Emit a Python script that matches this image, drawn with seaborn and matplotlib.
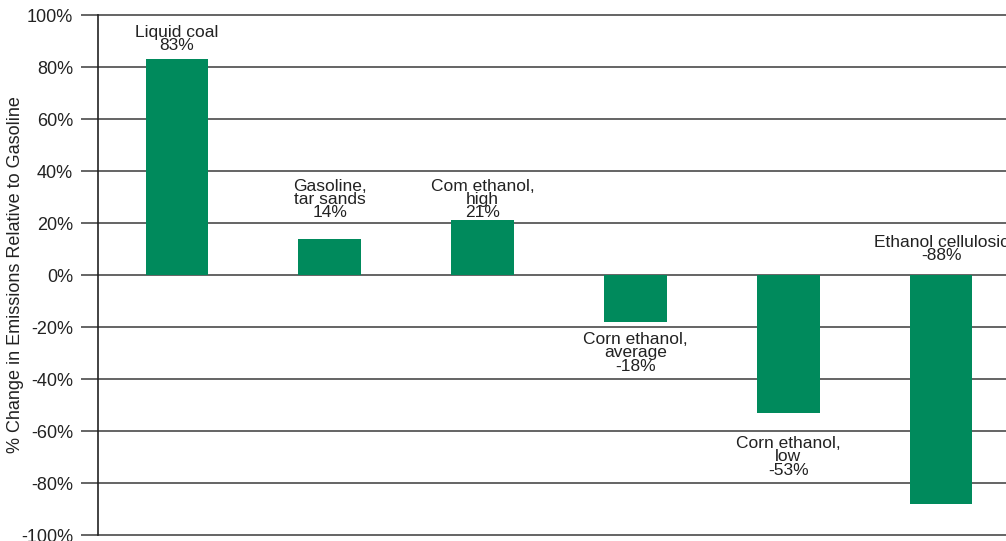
import matplotlib
matplotlib.use("Agg")
import matplotlib.pyplot as plt
import seaborn as sns
import pandas as pd

categories = ["Liquid coal", "Gasoline,\ntar sands", "Com ethanol,\nhigh",
              "Corn ethanol,\naverage", "Corn ethanol,\nlow", "Ethanol cellulosic"]
values = [83, 14, 21, -18, -53, -88]
label_y = [85.5, 21.0, 21.0, -22.0, -62.0, 4.5]
label_va = ["bottom", "bottom", "bottom", "top", "top", "bottom"]
yticks = list(range(-100, 101, 20))
ylabel = "% Change in Emissions Relative to Gasoline"

df = pd.DataFrame({"cat": categories, "val": values})

sns.set_theme(style="white")
plt.rcParams["font.family"] = ["Liberation Sans", "DejaVu Sans"]

fig = plt.figure(figsize=(10.06, 5.41), dpi=100)
ax = fig.add_axes([98 / 1006, 6 / 541, 1 - 98 / 1006, 520 / 541])

sns.barplot(data=df, x="cat", y="val", order=categories, color="#008A5C",
            saturation=1, width=0.41, ax=ax, zorder=3, linewidth=0,
            edgecolor="none")

ax.set_ylim(-100, 100)
ax.set_xlim(-0.517, 5.425)
ax.set_yticks(yticks)
ax.set_yticklabels([f"{t}%" for t in yticks], fontsize=13, color="#222222")
ax.set_xticks([])
ax.set_xlabel("")
ax.set_ylabel(ylabel, fontsize=13, color="#222222")
ax.yaxis.set_label_coords(-0.082, 0.5)

for t in yticks:
    ax.axhline(t, color="#4a4a4a", lw=1.2, zorder=1, clip_on=False)

for s in ["top", "right", "bottom"]:
    ax.spines[s].set_visible(False)
ax.spines["left"].set_color("#222222")
ax.spines["left"].set_linewidth(1.2)
ax.tick_params(axis="y", which="major", direction="out", length=12,
               width=1.2, color="#4a4a4a", pad=6, left=True)

for i, (lab, y, va) in enumerate(zip(categories, label_y, label_va)):
    txt = lab + "\n" + f"{values[i]}%"
    ax.text(i, y, txt, ha="center", va=va, fontsize=12.5, color="#222222",
            linespacing=0.85, zorder=4, clip_on=False)

fig.savefig("out.png", dpi=100)
